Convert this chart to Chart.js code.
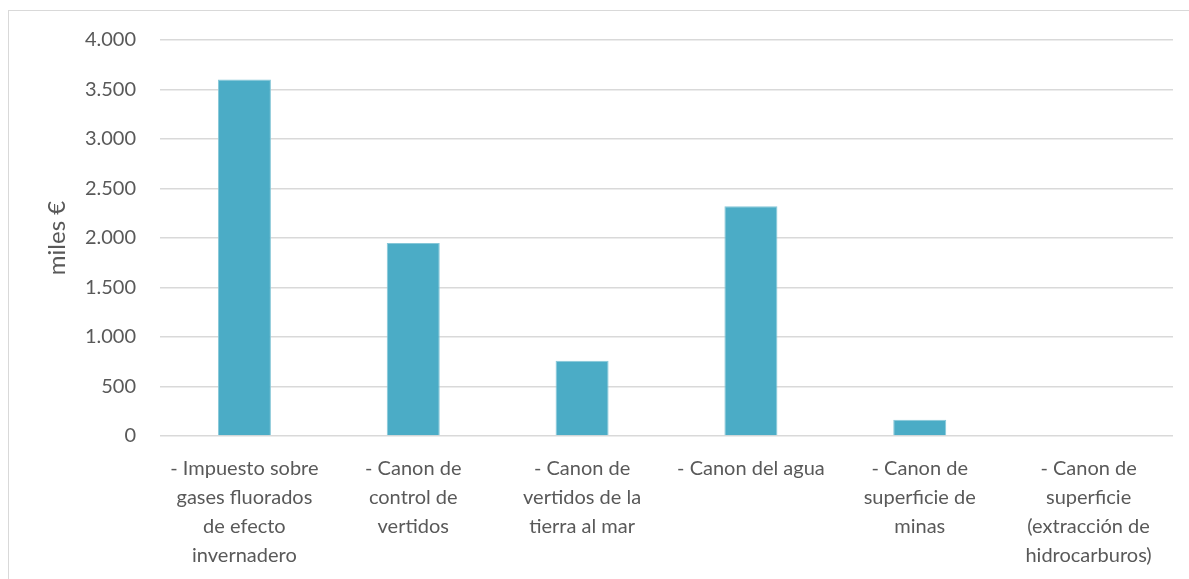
<!DOCTYPE html>
<html lang="es">
<head>
<meta charset="utf-8">
<title>Impuestos y cánones ambientales</title>
<script src="https://cdn.jsdelivr.net/npm/chart.js@4.4.1/dist/chart.umd.min.js"></script>
<style>
  html, body { margin: 0; padding: 0; background: #ffffff; overflow: hidden; }
  #frame {
    position: absolute; left: 8px; top: 10px;
    width: 1200px; height: 600px;
    border: 1px solid #d9d9d9; box-sizing: border-box;
  }
  #chart { position: absolute; left: 0; top: 0; }
</style>
</head>
<body>
<div id="frame"></div>
<canvas id="chart" width="1189" height="579"></canvas>
<script>
// Categories (wrapped onto lines as shown under the axis)
const categories = [
  ["- Impuesto sobre", "gases fluorados", "de efecto", "invernadero"],
  ["- Canon de", "control de", "vertidos"],
  ["- Canon de", "vertidos de la", "tierra al mar"],
  ["- Canon del agua"],
  ["- Canon de", "superficie de", "minas"],
  ["- Canon de", "superficie", "(extracción de", "hidrocarburos)"]
];

// Revenue, thousands of euros
const values = [3600, 1950, 760, 2320, 165, 0];

// Value axis
const yMin = 0;
const yMax = 4000;
const yStep = 500;
const yTitle = "miles €";

// Thousands separator with a dot
function fmt(v) {
  return String(Math.round(v)).replace(/\B(?=(\d{3})+(?!\d))/g, ".");
}

const FONT = "Lato, 'Open Sans', sans-serif";
const TEXT = "#595959";

new Chart(document.getElementById("chart"), {
  type: "bar",
  data: {
    labels: categories,
    datasets: [{
      data: values,
      backgroundColor: "#4bacc6",
      borderColor: "#86c7d8",
      borderWidth: 1,
      barPercentage: 0.314,
      categoryPercentage: 1.0
    }]
  },
  options: {
    responsive: false,
    animation: false,
    layout: { padding: { left: 0, right: 16, top: 40, bottom: 0 } },
    plugins: {
      legend: { display: false },
      tooltip: { enabled: false }
    },
    scales: {
      x: {
        grid: { display: false, drawTicks: false },
        border: { display: false },
        ticks: {
          color: TEXT,
          font: { family: FONT, size: 20, lineHeight: 1.45 },
          padding: 18,
          maxRotation: 0,
          autoSkip: false
        },
        afterFit(scale) { scale.height = 143; }
      },
      y: {
        min: yMin,
        max: yMax,
        grid: { color: "#d9d9d9", lineWidth: 1.4, drawTicks: false },
        border: { display: false },
        ticks: {
          stepSize: yStep,
          color: TEXT,
          font: { family: FONT, size: 20 },
          padding: 24,
          callback: (v) => fmt(v)
        },
        title: {
          display: true,
          text: yTitle,
          color: TEXT,
          font: { family: FONT, size: 24 },
          padding: { top: 43, bottom: 0 }
        },
        afterFit(scale) { scale.width = 160; }
      }
    }
  }
});
</script>
</body>
</html>
